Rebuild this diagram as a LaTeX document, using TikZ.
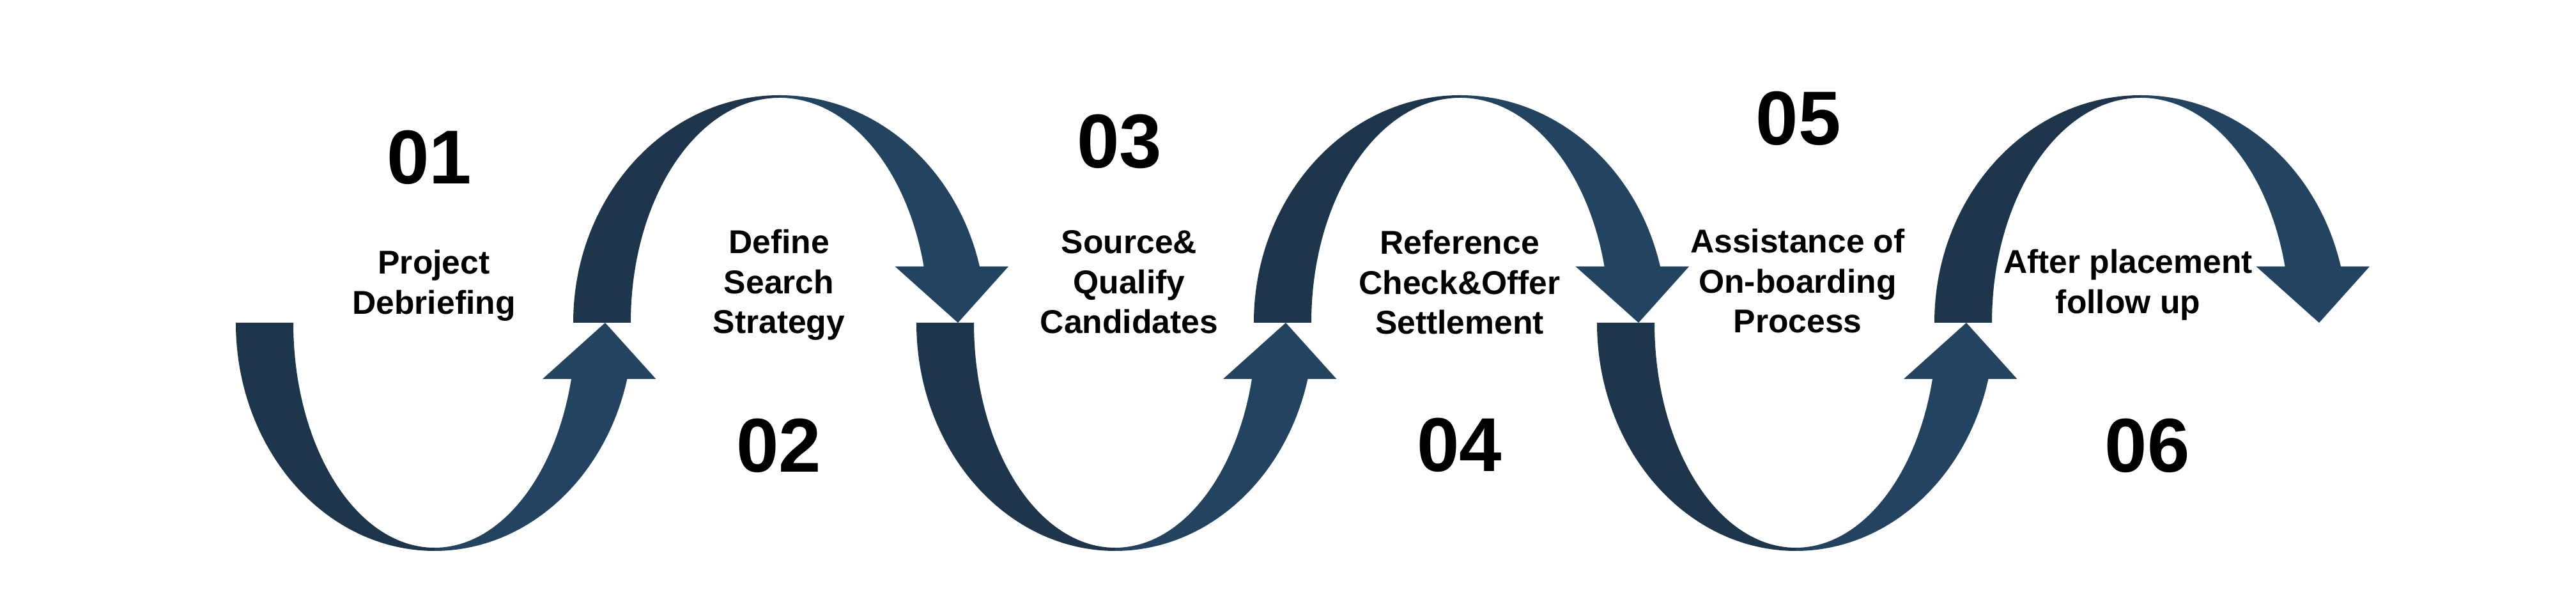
\documentclass[tikz,border=0pt]{standalone}
\usepackage{fontspec}
\setmainfont{Liberation Sans}
\definecolor{darkband}{HTML}{1D364C}
\definecolor{lightband}{HTML}{234460}
\tikzset{
  backband/.style={fill=darkband, draw=none},
  frontband/.style={fill=lightband, draw=none},
  numtext/.style={font=\bfseries\fontsize{34}{40}\selectfont, inner sep=0pt, anchor=base, text=black},
  steptext/.style={font=\bfseries\fontsize{14.68}{17.78}\selectfont, inner sep=0pt, anchor=base, text=black}
}
\newcommand\UShape[1]{%
 \begin{scope}[shift={(#1,4.51)}]
  \fill[backband] (-3.11,0) arc[start angle=180,end angle=270,x radius=3.11,y radius=3.57]
     -- (0,-3.52) arc[start angle=270,end angle=180,x radius=2.21,y radius=3.52] -- cycle;
  \fill[frontband] (0,-3.57) arc[start angle=270,end angle={360-asin(0.88/3.57)},x radius=3.11,y radius=3.57]
     -- ++(0.45,0) -- (2.67,0)
     -- ({2.21*cos(asin(0.88/3.52))-0.45},-0.88) -- ({2.21*cos(asin(0.88/3.52))},-0.88)
     arc[start angle={360-asin(0.88/3.52)},end angle=270,x radius=2.21,y radius=3.52] -- cycle;
 \end{scope}}
\newcommand\ArchShape[1]{%
 \begin{scope}[shift={(#1,4.51)}]
  \fill[backband] (-3.23,0) arc[start angle=180,end angle=90,x radius=3.23,y radius=3.56]
     -- (0,3.52) arc[start angle=90,end angle=180,x radius=2.33,y radius=3.52] -- cycle;
  \fill[frontband] (0,3.56) arc[start angle=90,end angle={asin(0.88/3.56)},x radius=3.23,y radius=3.56]
     -- ++(0.45,0) -- (2.79,0)
     -- ({2.33*cos(asin(0.88/3.52))-0.45},0.88) -- ({2.33*cos(asin(0.88/3.52))},0.88)
     arc[start angle={asin(0.88/3.52)},end angle=90,x radius=2.33,y radius=3.52] -- cycle;
 \end{scope}}
\begin{document}
\begin{tikzpicture}
\fill[white] (0,0) rectangle (40.31,9.56);
\useasboundingbox (0,0) rectangle (40.31,9.56);

\UShape{6.80}
\ArchShape{12.20}
\UShape{17.45}
\ArchShape{22.85}
\UShape{28.10}
\ArchShape{33.50}

\node[numtext] (n1) at (6.72,6.68) {01};
\node[steptext] (s1) at (6.79,5.27) {\begin{tabular}[t]{@{}c@{}}Project\\Debriefing\end{tabular}};

\node[steptext] (s2) at (12.19,5.59) {\begin{tabular}[t]{@{}c@{}}Define\\Search\\Strategy\end{tabular}};
\node[numtext] (n2) at (12.19,2.17) {02};

\node[numtext] (n3) at (17.52,6.93) {03};
\node[steptext] (s3) at (17.67,5.59) {\begin{tabular}[t]{@{}c@{}}Source\&\\Qualify\\Candidates\end{tabular}};

\node[steptext] (s4) at (22.84,5.58) {\begin{tabular}[t]{@{}c@{}}Reference\\Check\&Offer\\Settlement\end{tabular}};
\node[numtext] (n4) at (22.84,2.18) {04};

\node[numtext] (n5) at (28.14,7.29) {05};
\node[steptext] (s5) at (28.13,5.60) {\begin{tabular}[t]{@{}c@{}}Assistance of\\On-boarding\\Process\end{tabular}};

\node[steptext] (s6) at (33.30,5.28) {\begin{tabular}[t]{@{}c@{}}After placement\\follow up\end{tabular}};
\node[numtext] (n6) at (33.60,2.17) {06};
\end{tikzpicture}
\end{document}
